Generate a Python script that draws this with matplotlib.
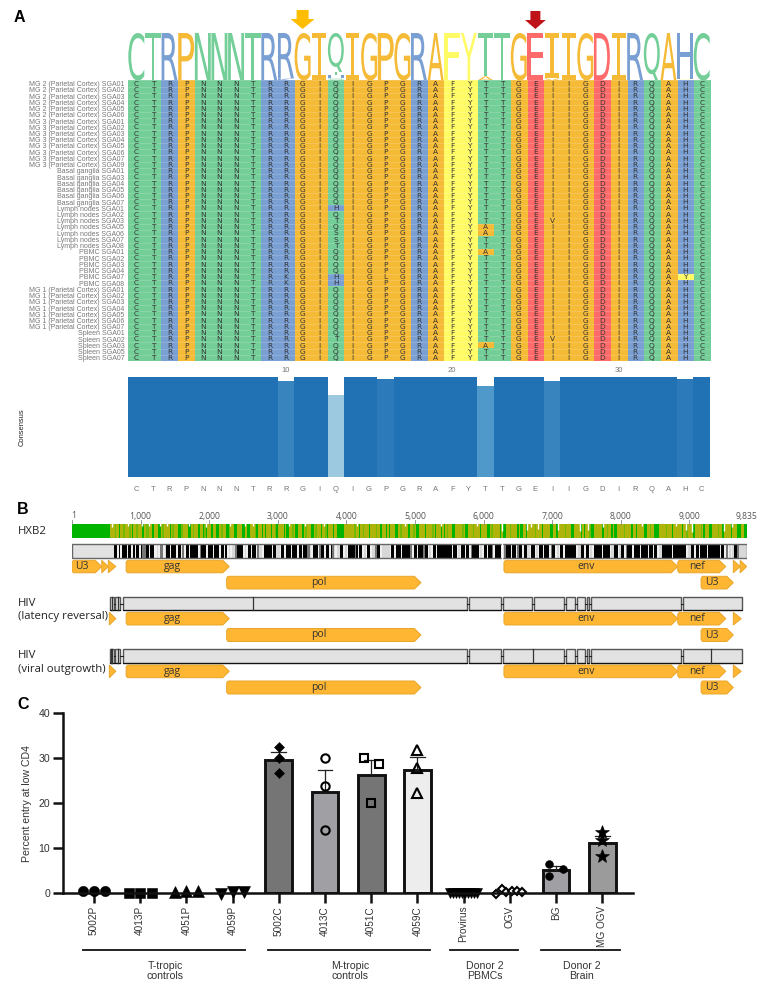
import numpy as np
import matplotlib
matplotlib.use("Agg")
import matplotlib.pyplot as plt
from matplotlib.colors import ListedColormap, LinearSegmentedColormap
from matplotlib.patches import PathPatch, Polygon, Rectangle, FancyArrow
from matplotlib.textpath import TextPath
from matplotlib.font_manager import FontProperties
from matplotlib.transforms import Affine2D

plt.rcParams['font.family'] = ['Liberation Sans', 'DejaVu Sans']

# ---------- data: panel A ----------
CONSENSUS_SEQ = "CTRPNNNTRRGIQIGPGRAFYTTGEIIGDIRQAHC"
ROW_LABELS = (
    [f"MG 2 (Parietal Cortex) SGA0{i}" for i in (1, 2, 3, 4, 5, 6)] +
    [f"MG 3 (Parietal Cortex) SGA0{i}" for i in (1, 2, 3, 4, 5, 6, 7, 9)] +
    [f"Basal ganglia SGA0{i}" for i in (1, 3, 4, 5, 6, 7)] +
    [f"Lymph nodes SGA0{i}" for i in (1, 2, 3, 5, 6, 7, 8)] +
    [f"PBMC SGA0{i}" for i in (1, 2, 3, 4, 7, 8)] +
    [f"MG 1 (Parietal Cortex) SGA0{i}" for i in (1, 2, 3, 4, 5, 6, 7)] +
    [f"Spleen SGA0{i}" for i in (1, 2, 3, 5, 7)]
)
# (row label, 1-based column, residue)
MUTATIONS = [
    ("Lymph nodes SGA01", 13, "H"), ("Lymph nodes SGA03", 13, "T"),
    ("Lymph nodes SGA07", 13, "S"), ("Lymph nodes SGA06", 13, "S"),
    ("Lymph nodes SGA08", 13, "T"), ("PBMC SGA07", 13, "H"),
    ("PBMC SGA08", 13, "H"), ("Spleen SGA02", 13, "T"),
    ("PBMC SGA07", 10, "K"), ("PBMC SGA08", 10, "K"),
    ("PBMC SGA07", 16, "L"),
    ("Lymph nodes SGA05", 22, "A"), ("Lymph nodes SGA06", 22, "A"),
    ("PBMC SGA01", 22, "A"), ("Spleen SGA03", 22, "A"),
    ("Lymph nodes SGA03", 26, "V"), ("Spleen SGA02", 26, "V"),
    ("PBMC SGA07", 34, "Y"),
]
RES_COLORS = dict(C="#74CE98", T="#74CE98", N="#74CE98", Q="#74CE98", S="#74CE98",
                  R="#7A9FD3", H="#7A9FD3", K="#7A9FD3",
                  P="#F5BA36", G="#F5BA36", I="#F5BA36", A="#F5BA36", L="#F5BA36", V="#F5BA36",
                  F="#FFFB66", Y="#FFFB66", E="#FF6B6B", D="#FF6B6B")

# ---------- data: panel B ----------
GENOME_TICKS = [1, 1000, 2000, 3000, 4000, 5000, 6000, 7000, 8000, 9000, 9835]
GENOME_TICK_LABELS = ["1", "1,000", "2,000", "3,000", "4,000", "5,000", "6,000", "7,000", "8,000", "9,000", "9,835"]
COVER_SOLID_END = 560
COVER_STR = ("OOOMOOBOOMOOOMOBOOMOOOBOOMMOOBOOOBBOMOOOOBOMOOOBBMOOOOBBOMOOOBOOBMBOOOBOOBBOOMOOBBMOOOBBOOOBB"
             "OOBBOOOMBOOOBOBOOOBOOMBOOOOBOBBOOMOBBOOOBOMOOOBBOMOOOBOOMBOOOBOOBBBBBOOOOOOOMOOBOOMOOOBOOOOMOOBOO"
             "OBOBOOOBBOOMOOOOBBOOMOBBOOOOBOOOOMOBOOOBOBOMOOOBBOOOOOMOBBOOOMOOOOBOOOOBBOMOOOOOBOBBOOOMOOOOBOBB"
             "OOBOOOOOMOOOOBOOOOOBBOOBOOOOOMOOOBBOOOOOBOBOOOMBBOOOOOOBOOMOOBOBBOOOOOMOOOOBOOBOOOOOBBOOMOOBBBOO"
             "OOOMOOOBOOOOOOBOOMOOOOBOOOOMOBOOOBBOOOOMOOBOOOOOBOOOBBBOOBB")
BARCODE_LIGHT_END = 610
BARCODE_STR = ("KKWKWKKKWKKWKWKKWKGGKKWKKWWLWGGWLKKWKKKWKKWGWKKWKKKKKWGKKKWKKKWKKKWKKWKWLWLLGKKKKWLWKKWKKWGLLWKKKKKWKK"
               "LLWKKWKKKWKKKWKKWKKGGLWKKKWGKKWKKWKGLWLLKKWLWKKKKGKWKKWLWKKWLLGKKWLLLLLWKKWKKKWKKKKKGWKKWKKKGKKWLWKKWK"
               "KKKKKKKKWKKWLWKKWKKWGKKKKWLWKKWKKGWKKKKWLGKKKWKKWGKKWKKLLWKKWLWKKWKKKWGKKWLWKKWKKKKKKKWLLKKWKKWLWKKKK"
               "KWKKKKWLLKKWLKKWGKKKWKKKKWKKKKWKKWKKWLLKKKKKKWKKKKKKKKWLLKKWKKWKKKKWKKKKKKKWKKWGWLWLKKGLLLLL")
BARCODE_GAP_NT = 6265
COVER_DIP_NT = [580, 820, 1020, 1130, 1280, 1390, 1700, 1960, 2300, 2520, 2640, 3160, 3400, 3680, 4150,
                4850, 5380, 5900, 6270, 6640, 6790, 6690, 7080, 7400, 7520, 7740, 8310, 8800, 8950, 9040, 9510, 9620]
COVER_DIP_DEPTH = [.2, .1, .1, .15, .1, .1, .1, .2, .15, .1, .1, .15, .1, .1, .15,
                   .1, .1, .15, .5, .45, .35, .2, .45, .5, .45, .2, .15, .15, .45, .6, .5, .2]

ARROW_ROW1 = [("U3", 1, 435), ("", 435, 530), ("", 530, 640), ("gag", 790, 2293), ("env", 6297, 8830),
              ("nef", 8830, 9530), ("", 9640, 9740), ("", 9740, 9835)]
ARROW_ROW2 = [("pol", 2255, 5087), ("U3", 9170, 9640)]
ARROW_ROW1_SHORT = [("", 545, 640), ("gag", 790, 2293), ("env", 6297, 8830), ("nef", 8830, 9530), ("", 9640, 9755)]

LAT_STARTS = [555, 628, 740, 5792, 6289, 6741, 7207, 7367, 7513, 7560]
LAT_ENDS = [609, 705, 5763, 6255, 6706, 7174, 7329, 7475, 7532, 8874]
LAT_LAST = (8907, 9763)
LAT_DIVIDERS = [590, 665, 2640]
VO_STARTS = [555, 628, 740, 5792, 6289, 7207, 7367, 7513, 7560]
VO_ENDS = [609, 705, 5763, 6255, 7174, 7329, 7475, 7532, 8874]
VO_LAST = (8907, 9763)
VO_DIVIDERS = [575, 590, 665, 6718, 9320]

# ---------- data: panel C ----------
STRAINS = ["5002P", "4013P", "4051P", "4059P", "5002C", "4013C", "4051C", "4059C", "Provirus", "OGV", "BG", "MG OGV"]
BAR_MEANS = [0.5, 0.15, 0.45, 0.15, 29.7, 22.6, 26.3, 27.4, 0.1, 0.35, 5.2, 11.1]
BAR_COLORS = ["#757575", "#757575", "#757575", "#757575", "#757575", "#A0A0A4", "#757575", "#EDEDED",
              "#FFFFFF", "#FFFFFF", "#A0A0A4", "#9B9B9B"]
ERR_TOPS = [None, None, None, None, 31.3, 27.3, 29.6, 30.2, None, None, 6.1, 12.7]
PTS_Y = [[.5, .5, .5], [.1, .1, .1], [.4, .6, .5], [-.1, .3, .2],
         [32.5, 30, 26.8], [30, 23.9, 14], [30.1, 28.8, 20.1], [31.8, 27.9, 22.4],
         [.1, .1, .1, .1, .1, .1, .1, .1, .1, .1], [-.2, .9, .2, .5, .6, .4], [6.6, 5.5, 3.9], [13.7, 11.8, 8.4]]
PTS_DX = [[-.245, 0, .245], [-.245, 0, .245], [-.245, 0, .245], [-.245, 0, .245],
          [0, 0, 0], [0, 0, 0], [-.16, .16, 0], [0, 0, 0],
          [-.3, -.23, -.17, -.1, -.03, .03, .1, .17, .23, .3], [-.3, -.16, -.08, .04, .16, .27],
          [-.16, .16, -.16], [0, 0, 0]]
MARKERS = ["o", "s", "^", "v", "D", "o", "s", "^", "v", "D", "o", "*"]
MARKER_SIZES = [7.4, 7, 8.4, 8.2, 4.8, 6, 5.6, 6.6, 6.6, 4.2, 5.6, 10]
FILLED = [True, True, True, True, True, False, False, False, True, False, True, True]
GROUP_NAMES = ["T-tropic\ncontrols", "M-tropic\ncontrols", "Donor 2\nPBMCs", "Donor 2\nBrain"]

# ---------- layout helpers ----------
W, H = 766, 997
fig = plt.figure(figsize=(W / 100, H / 100), dpi=100, facecolor="white")

def ax_px(l, t, r, b, **kw):
    return fig.add_axes([l / W, 1 - b / H, (r - l) / W, (b - t) / H], **kw)

def txt(x, y, s, **kw):
    fig.text(x / W, 1 - y / H, s, **kw)

GRAY_TXT = "#777777"
txt(14, 17, "A", fontsize=11.5, fontweight="bold", va="center")
txt(17, 509, "B", fontsize=11.5, fontweight="bold", va="center")
txt(17, 704, "C", fontsize=11.5, fontweight="bold", va="center")

# ---------- panel A: alignment ----------
n_col = len(CONSENSUS_SEQ)
n_row = len(ROW_LABELS)
alignment = [list(CONSENSUS_SEQ) for _ in ROW_LABELS]
for lab, col, res in MUTATIONS:
    alignment[ROW_LABELS.index(lab)][col - 1] = res

res_list = sorted(RES_COLORS)
grid = np.array([[res_list.index(c) for c in row] for row in alignment])
ax = ax_px(128, 80.5, 710, 361)
ax.imshow(grid, cmap=ListedColormap([RES_COLORS[r] for r in res_list]), vmin=0, vmax=len(res_list) - 1,
          aspect="auto", interpolation="nearest",
          extent=(0.5, n_col + 0.5, n_row - 0.5, -0.5))
ax.hlines(np.arange(n_row) - 0.5, 0.5, n_col + 0.5, color="white", lw=0.5, alpha=0.22)
for r, row in enumerate(alignment):
    for c, ch in enumerate(row):
        ax.text(c + 1, r + 0.03, ch, ha="center", va="center", fontsize=5.3, color="#333333",
                family="DejaVu Sans")
ax.set_xlim(0.5, n_col + 0.5)
ax.set_ylim(n_row - 0.5, -0.5)
ax.set_yticks(range(n_row), ROW_LABELS, fontsize=5.05, color=GRAY_TXT)
ax.set_xticks([10, 20, 30], ["10", "20", "30"], fontsize=5.5, color=GRAY_TXT)
ax.tick_params(length=0, pad=2.7)
ax.tick_params(axis="x", pad=4)
for s in ax.spines.values():
    s.set_visible(False)

# ---------- panel A: logo ----------
identity = np.array([sum(row[c] == CONSENSUS_SEQ[c] for row in alignment) / n_row for c in range(n_col)])
axl = ax_px(128, 33, 710, 80.5)
axl.set_xlim(0.5, n_col + 0.5)
axl.set_ylim(0, 1)
axl.axis("off")
fp_sans = FontProperties(family="DejaVu Sans")
fp_mono = FontProperties(family="DejaVu Sans Mono")

def logo_letter(ax, ch, col, y0, y1):
    tp = TextPath((0, 0), ch, size=1, prop=fp_mono if ch == "I" else fp_sans)
    bb = tp.get_extents()
    w = 0.84 if ch == "I" else 0.96
    tf = (Affine2D().translate(-bb.x0, -bb.y0).scale(w / bb.width, (y1 - y0) / bb.height)
          .translate(col - w / 2, y0))
    ax.add_patch(PathPatch(tf.transform_path(tp), fc=RES_COLORS[ch], ec="none"))

for c in range(n_col):
    logo_letter(axl, CONSENSUS_SEQ[c], c + 1, 1 - identity[c], 1)
    others = {}
    for row in alignment:
        if row[c] != CONSENSUS_SEQ[c]:
            others[row[c]] = others.get(row[c], 0) + 1 / n_row
    y = 0
    for ch, h in sorted(others.items(), key=lambda kv: kv[1]):
        logo_letter(axl, ch, c + 1, y, y + h)
        y += h

# arrows
axa = ax_px(128, 5, 710, 33)
axa.set_xlim(0.5, n_col + 0.5)
axa.set_ylim(33, 5)
axa.axis("off")
axa.add_patch(FancyArrow(11, 10, 0, 19, width=0.72, head_width=1.45, head_length=10,
                         length_includes_head=True, fc="#FFBD00", ec="none"))
axa.add_patch(FancyArrow(25, 11, 0, 18, width=0.6, head_width=1.25, head_length=9,
                         length_includes_head=True, fc="#BE1318", ec="none"))

# ---------- panel A: consensus ----------
axc = ax_px(128, 377, 710, 477)
blue_cmap = LinearSegmentedColormap.from_list("cons", ["#9ECAE1", "#5EA5D1", "#3F8BC3", "#2171B5"])
cvals = (identity - 0.82) / 0.18
axc.bar(np.arange(1, n_col + 1), identity, width=1, color=blue_cmap(np.clip(cvals, 0, 1)), ec="none")
axc.set_xlim(0.5, n_col + 0.5)
axc.set_ylim(0, 1)
axc.set_yticks([])
axc.set_xticks(range(1, n_col + 1), list(CONSENSUS_SEQ), fontsize=5.5, color=GRAY_TXT)
axc.tick_params(length=0, pad=6.5)
for s in axc.spines.values():
    s.set_visible(False)
txt(22, 427, "Consensus", fontsize=5.4, rotation=90, ha="center", va="center", color="#222222")

# ---------- panel B ----------
axg = ax_px(72, 510, 746.7, 697)
axg.set_xlim(1, 9835)
axg.set_ylim(697, 510)
axg.axis("off")
FONT_B = "Open Sans"

for t, lab in zip(GENOME_TICKS, GENOME_TICK_LABELS):
    axg.text(t if t > 1 else t + 20, 516, lab, ha="center", va="center", fontsize=6.2, color="#555555", family=FONT_B)
    axg.plot([t, t], [520.5, 524], color="#888888", lw=0.6)

# coverage bar
COVER_CODES = {"B": "#00B400", "M": "#72BA06", "O": "#AEB40A"}
axg.add_patch(Rectangle((1, 524.3), COVER_SOLID_END, 13.4, fc=COVER_CODES["B"], ec="none"))
keys = list(COVER_CODES)
vals = np.array([[keys.index(c) for c in COVER_STR]])
edges = np.linspace(COVER_SOLID_END, 9835, len(COVER_STR) + 1)
axg.pcolormesh(edges, [524.3, 537.7], vals, cmap=ListedColormap(list(COVER_CODES.values())), vmin=0, vmax=2)
for nt, d in zip(COVER_DIP_NT, COVER_DIP_DEPTH):
    axg.plot([nt, nt], [523.5, 524.3 + 13.4 * d], color="white", lw=1.0, solid_capstyle="butt")

# barcode
BAR_CODES = {"K": "#000000", "G": "#777777", "L": "#D8D8D8", "W": "#F0F0F0"}
keys = list(BAR_CODES)
axg.add_patch(Rectangle((1, 544.3), BARCODE_LIGHT_END, 13.6, fc="#E2E2E2", ec="none"))
vals = np.array([[keys.index(c) for c in BARCODE_STR]])
edges = np.linspace(BARCODE_LIGHT_END, 9835, len(BARCODE_STR) + 1)
axg.pcolormesh(edges, [544.3, 557.9], vals, cmap=ListedColormap(list(BAR_CODES.values())), vmin=0, vmax=3)
axg.add_patch(Rectangle((1, 544.3), 9834, 13.6, fc="none", ec="#666666", lw=1))
axg.plot([BARCODE_GAP_NT] * 2, [543.5, 558.7], color="white", lw=1.0)

def arrows(items, y0, y1):
    for name, a, b in items:
        head = min(95, b - a)
        ym = (y0 + y1) / 2
        if name:
            pts = [(a + 20, y0), (b - head, y0), (b, ym), (b - head, y1), (a + 20, y1), (a, y1 - 2), (a, y0 + 2)]
        else:
            pts = [(a, y0), (b, ym), (a, y1)]
        axg.add_patch(Polygon(pts, closed=True, fc="#FFB733", ec="#E9A52A", lw=0.7))
        if name:
            axg.text((a + b - head * 1.5) / 2, ym, name, ha="center", va="center",
                     fontsize=7.5, color="#333333", family=FONT_B)

arrows(ARROW_ROW1, 560.3, 572.8)
arrows(ARROW_ROW2, 576.3, 589)
arrows(ARROW_ROW1_SHORT, 612.3, 625)
arrows(ARROW_ROW2, 628.5, 641.5)
arrows(ARROW_ROW1_SHORT, 665, 677.7)
arrows(ARROW_ROW2, 681, 694)

def segments(starts, ends, last, dividers, y0, y1):
    s = list(starts) + [last[0]]
    e = list(ends) + [last[1]]
    for a, b in zip(e[:-1], s[1:]):
        axg.plot([a, b], [(y0 + y1) / 2] * 2, color="#222222", lw=0.8)
    for a, b in zip(s, e):
        axg.add_patch(Rectangle((a, y0), b - a, y1 - y0, fc="#E2E2E2", ec="#555555", lw=1))
        axg.plot([a, b], [y1, y1], color="#111111", lw=0.8)
    for d in dividers:
        axg.plot([d, d], [y0, y1], color="#333333", lw=0.9)

segments(LAT_STARTS, LAT_ENDS, LAT_LAST, LAT_DIVIDERS, 597, 610.5)
segments(VO_STARTS, VO_ENDS, VO_LAST, VO_DIVIDERS, 649.3, 662.8)

for y, s in [(531, "HXB2"), (603, "HIV"), (617, "(latency reversal)"), (655, "HIV"), (669, "(viral outgrowth)")]:
    txt(18, y, s, fontsize=8.2, va="center", color="#222222", family=FONT_B)

# ---------- panel C ----------
axb = ax_px(62.7, 713.3, 633, 893.3)
x0 = 94
step = 46.2
axb.set_xlim((62.7 - x0) / step, (633 - x0) / step)
axb.set_ylim(0, 40)
xs = np.arange(len(STRAINS))
for i in xs:
    if BAR_MEANS[i] > 1:
        axb.bar(i, BAR_MEANS[i], width=0.58, color=BAR_COLORS[i], ec="#111111", lw=2.1, zorder=2)
    if ERR_TOPS[i] is not None:
        axb.plot([i, i], [BAR_MEANS[i], ERR_TOPS[i]], color="#222222", lw=0.9, zorder=3, clip_on=False)
        axb.plot([i - 0.16, i + 0.16], [ERR_TOPS[i]] * 2, color="#222222", lw=0.9, zorder=3, clip_on=False)
    if FILLED[i]:
        axb.plot(i + np.array(PTS_DX[i]), PTS_Y[i], ls="none", marker=MARKERS[i], ms=MARKER_SIZES[i],
                 mfc="black", mec="black", mew=0.4, zorder=4, clip_on=False)
    else:
        axb.plot(i + np.array(PTS_DX[i]), PTS_Y[i], ls="none", marker=MARKERS[i], ms=MARKER_SIZES[i],
                 mfc="white" if MARKERS[i] == "D" else "none", mec="black", mew=1.5, zorder=4, clip_on=False)
axb.set_xticks(xs, STRAINS, rotation=90, fontsize=7.2, color="#333333")
axb.set_yticks([0, 10, 20, 30, 40], ["0", "10", "20", "30", "40"], fontsize=7.6, color="#333333")
axb.set_ylabel("Percent entry at low CD4", fontsize=7.6, color="#333333", labelpad=5)
axb.tick_params(axis="both", width=1.8, length=7, color="#111111", pad=2)
axb.tick_params(axis="x", length=7.5, pad=1.5)
for s in ("top", "right"):
    axb.spines[s].set_visible(False)
for s in ("left", "bottom"):
    axb.spines[s].set_linewidth(1.8)
    axb.spines[s].set_color("#111111")
    axb.spines[s].set_zorder(6)

# group rules
axr = ax_px(0, 900, W, H)
axr.set_xlim(0, W)
axr.set_ylim(H, 900)
axr.axis("off")
groups_px = [(83.3, 245), (268, 430), (450.3, 517.7), (541, 620)]
for (a, b), name in zip(groups_px, GROUP_NAMES):
    axr.plot([a, b], [950, 950], color="#111111", lw=1.3)
    axr.text((a + b) / 2 + 1, 971, name, ha="center", va="center", fontsize=7.6, color="#333333", linespacing=0.95)

fig.savefig("out.png", dpi=100)
